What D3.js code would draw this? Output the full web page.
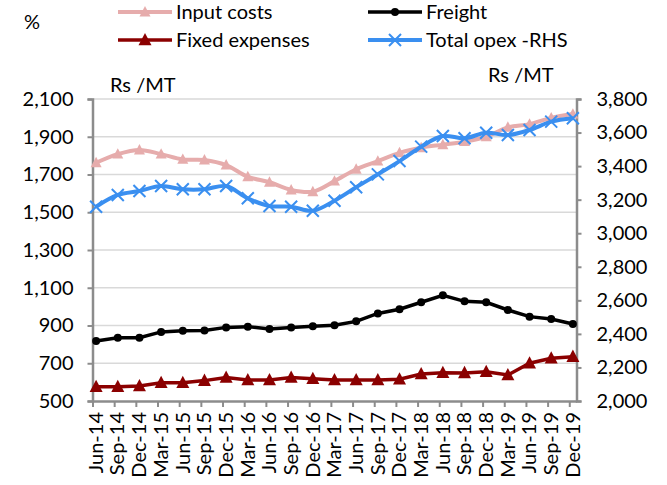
<!DOCTYPE html>
<html>
<head>
<meta charset="utf-8">
<script src="https://cdnjs.cloudflare.com/ajax/libs/d3/7.8.5/d3.min.js"></script>
<style>
  html, body { margin: 0; padding: 0; background: #fff; }
  svg text { font-family: Lato, "Open Sans", sans-serif; fill: #000; }
</style>
</head>
<body>
<div id="OpexPlot"></div>
<script>
// quarterly categories
const quarters = ["Jun-14", "Sep-14", "Dec-14", "Mar-15", "Jun-15", "Sep-15", "Dec-15", "Mar-16",
  "Jun-16", "Sep-16", "Dec-16", "Mar-17", "Jun-17", "Sep-17", "Dec-17", "Mar-18",
  "Jun-18", "Sep-18", "Dec-18", "Mar-19", "Jun-19", "Sep-19", "Dec-19"];

// left axis series (Rs/MT)
const inputCosts = [1762, 1808, 1830, 1808, 1780, 1777, 1750, 1688, 1659, 1618, 1609, 1665,
  1728, 1771, 1815, 1842, 1858, 1874, 1900, 1950, 1967, 2000, 2020];
const freight = [818, 835, 835, 866, 872, 874, 890, 894, 881, 890, 896, 901,
  922, 964, 986, 1023, 1060, 1028, 1023, 982, 947, 934, 908];
const fixedExpenses = [576, 576, 579, 597, 597, 608, 625, 611, 611, 625, 618, 611,
  611, 611, 615, 643, 650, 649, 655, 638, 700, 726, 735];

// right axis series (Rs/MT)
const totalOpex = [3158, 3228, 3252, 3281, 3262, 3262, 3281, 3208, 3162, 3158, 3134, 3194,
  3274, 3351, 3430, 3516, 3579, 3566, 3599, 3585, 3615, 3665, 3685];

// tick values
const leftTicks = [500, 700, 900, 1100, 1300, 1500, 1700, 1900, 2100];
const rightTicks = [2000, 2200, 2400, 2600, 2800, 3000, 3200, 3400, 3600, 3800];

let width = 667, height = 485;
let plotLeft = 92.5, plotRight = 576.5, plotTop = 99, plotBottom = 401;

let svg = d3.select("#OpexPlot").append("svg")
  .attr("width", width)
  .attr("height", height);

// date-style axis: one slot per month (Jun-14 .. Dec-19), points sit mid-month
let monthCount = (quarters.length - 1) * 3 + 1;
let x = d3.scaleLinear().domain([0, monthCount]).range([plotLeft, plotRight]);
let xPos = i => x(i * 3 + 0.5);

let yL = d3.scaleLinear().domain([500, 2100]).range([plotBottom, plotTop]);
let yR = d3.scaleLinear().domain([2000, 3800]).range([plotBottom, plotTop]);

let fmt = d3.format(",");
let axisColor = "#8c8c8c";

// gridlines
svg.append("g")
  .selectAll("line")
  .data(leftTicks.slice(1))
  .enter()
  .append("line")
  .attr("x1", plotLeft)
  .attr("x2", plotRight)
  .attr("y1", d => yL(d))
  .attr("y2", d => yL(d))
  .style("stroke", "#d9d9d9")
  .style("stroke-width", 1.5);

// left axis
let leftAxis = svg.append("g")
  .attr("transform", "translate(" + plotLeft + ",0)")
  .call(d3.axisLeft(yL).tickValues(leftTicks).tickFormat(fmt).tickSize(5).tickPadding(14));

// right axis
let rightAxis = svg.append("g")
  .attr("transform", "translate(" + plotRight + ",0)")
  .call(d3.axisRight(yR).tickValues(rightTicks).tickFormat(fmt).tickSize(5).tickPadding(15));

// bottom axis
let tickMonths = d3.range(quarters.length).map(i => i * 3);
let bottomAxis = svg.append("g")
  .attr("transform", "translate(0," + plotBottom + ")")
  .call(d3.axisBottom(x).tickValues(tickMonths).tickFormat("").tickSize(6).tickSizeOuter(0));

[leftAxis, rightAxis, bottomAxis].forEach(a => {
  a.select(".domain").style("stroke", axisColor).style("stroke-width", 2.5);
  a.selectAll(".tick line").style("stroke", axisColor).style("stroke-width", 2);
  a.selectAll("text").style("font-size", "20px").style("font-family", "Lato");
});

// bottom labels, rotated
svg.append("g")
  .selectAll("text")
  .data(quarters)
  .enter()
  .append("text")
  .attr("transform", (d, i) => "translate(" + (xPos(i) - 0.5) + "," + (plotBottom + 11) + ") rotate(-90)")
  .attr("dy", "0.36em")
  .style("text-anchor", "end")
  .style("font-size", "20px")
  .text(d => d);

// series lines
let series = [
  { name: "Input costs", values: inputCosts, y: yL, color: "#e6acac", w: 4, marker: "tri", size: 11, curve: d3.curveCatmullRom },
  { name: "Total opex -RHS", values: totalOpex, y: yR, color: "#3a8ff0", w: 4, marker: "cross", size: 12, curve: d3.curveCatmullRom },
  { name: "Freight", values: freight, y: yL, color: "#000000", w: 3.5, marker: "dot", size: 8, curve: d3.curveLinear },
  { name: "Fixed expenses", values: fixedExpenses, y: yL, color: "#8b0000", w: 3.5, marker: "tri", size: 13, curve: d3.curveLinear }
];

let drawMarker = (g, s, cx, cy) => {
  if (s.marker === "tri") {
    let h = s.size * 0.9, hw = s.size / 2;
    g.append("path")
      .attr("d", "M" + cx + "," + (cy - h * 0.6) + "L" + (cx + hw) + "," + (cy + h * 0.45) + "L" + (cx - hw) + "," + (cy + h * 0.45) + "Z")
      .attr("fill", s.color);
  } else if (s.marker === "dot") {
    g.append("circle").attr("cx", cx).attr("cy", cy).attr("r", s.size / 2).attr("fill", s.color);
  } else {
    let r = s.size / 2;
    g.append("path")
      .attr("d", "M" + (cx - r) + "," + (cy - r) + "L" + (cx + r) + "," + (cy + r) + "M" + (cx + r) + "," + (cy - r) + "L" + (cx - r) + "," + (cy + r))
      .attr("stroke", s.color)
      .attr("stroke-width", 2)
      .attr("fill", "none");
  }
};

series.forEach(s => {
  let line = d3.line()
    .x((d, i) => xPos(i))
    .y(d => s.y(d))
    .curve(s.curve);

  let g = svg.append("g");
  g.append("path")
    .datum(s.values)
    .attr("d", line)
    .attr("fill", "none")
    .attr("stroke", s.color)
    .attr("stroke-width", s.w);

  s.values.forEach((v, i) => drawMarker(g, s, xPos(i), s.y(v)));
});

// legend
let legendItems = [
  { s: series[0], lx: 118, ly: 12 },
  { s: series[2], lx: 368, ly: 12 },
  { s: series[3], lx: 118, ly: 40 },
  { s: series[1], lx: 368, ly: 40 }
];
let legend = svg.append("g");
legendItems.forEach(item => {
  let s = item.s;
  let g = legend.append("g");
  g.append("line")
    .attr("x1", item.lx).attr("x2", item.lx + 54)
    .attr("y1", item.ly).attr("y2", item.ly)
    .attr("stroke", s.color)
    .attr("stroke-width", s.w);
  drawMarker(g, s, item.lx + 27, item.ly);
  g.append("text")
    .attr("x", item.lx + 58)
    .attr("y", item.ly + 7)
    .style("font-size", "20px")
    .text(s.name);
});

// unit labels
svg.append("text").attr("x", 24).attr("y", 29).style("font-size", "20px").text("%");
svg.append("text").attr("x", 110).attr("y", 92).style("font-size", "20px").text("Rs /MT");
svg.append("text").attr("x", 488).attr("y", 82).style("font-size", "20px").text("Rs /MT");
</script>
</body>
</html>
